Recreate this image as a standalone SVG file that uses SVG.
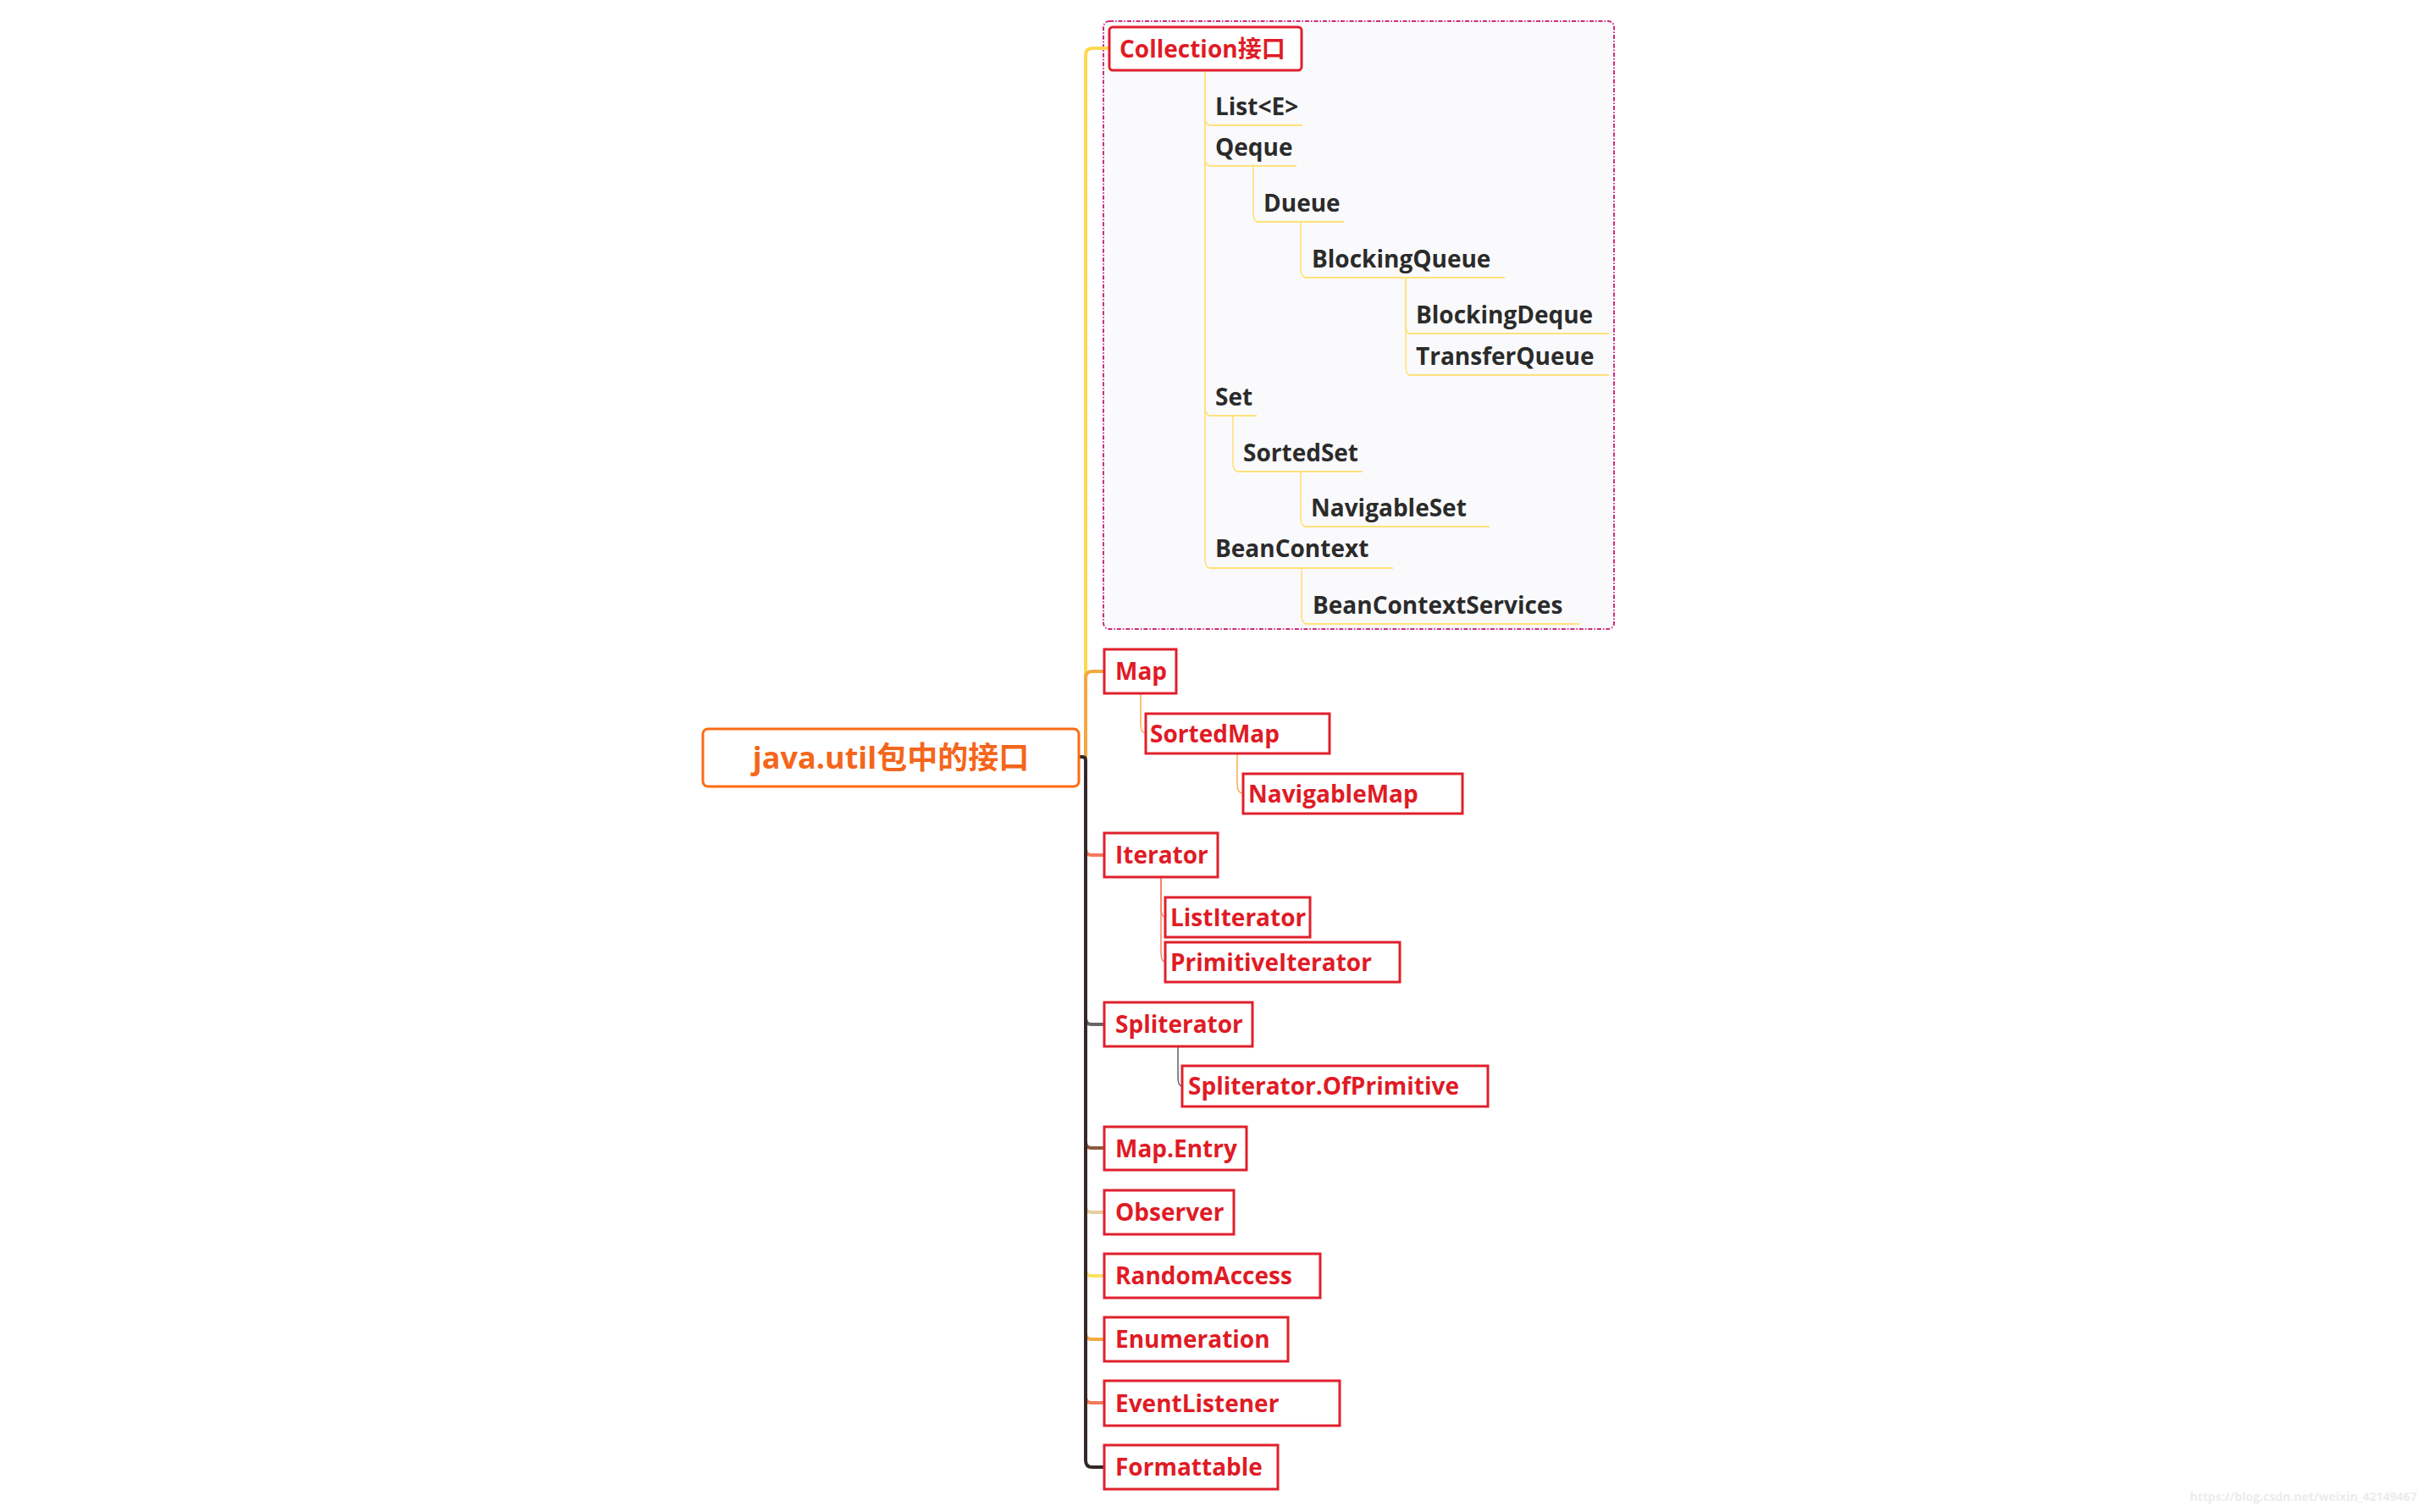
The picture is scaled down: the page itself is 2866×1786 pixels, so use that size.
<svg xmlns="http://www.w3.org/2000/svg" width="2866" height="1786" viewBox="0 0 2866 1786">
<style>
  text { font-family: "Open Sans", "Noto Sans CJK SC", sans-serif; font-weight: 700; }
  .red { fill: #e01b25; font-size: 28px; }
  .dark { fill: #2b2b2b; font-size: 28px; }
  .box { fill: #ffffff; stroke: #e0202c; stroke-width: 3; }
  .ul { stroke: #ffe27a; stroke-width: 2; fill: none; }
  .cn { stroke: #ffe27a; stroke-width: 1.6; fill: none; }
  .trunk { fill: none; stroke-width: 4; stroke-linejoin: round; }
  .sub { fill: none; stroke-width: 1.4; }
</style>
<rect x="0" y="0" width="2866" height="1786" fill="#ffffff"/>

<g id="collection-frame">
  <rect x="1303" y="25" width="603" height="718" rx="7" fill="#fafafc" stroke="#cf2b7d" stroke-width="2" stroke-dasharray="5 2 1.5 2"/>
</g>

<g id="connectors">
  <path class="trunk" stroke="#ffd84f" d="M1274,894 H1282 V65 Q1282,57 1290,57 H1310"/>
  <path class="trunk" stroke="#f5a742" d="M1274,894 H1282 V801 Q1282,793 1290,793 H1304"/>
  <path class="trunk" stroke="#f47a5a" d="M1282,1000 V1003 Q1282,1010 1289,1010 H1304"/>
  <path class="trunk" stroke="#666666" d="M1282,1200 V1203 Q1282,1210 1289,1210 H1304"/>
  <path class="trunk" stroke="#8b5a3c" d="M1282,1346 V1349 Q1282,1356 1289,1356 H1304"/>
  <path class="trunk" stroke="#e8c9a0" d="M1282,1422 V1425 Q1282,1432 1289,1432 H1304"/>
  <path class="trunk" stroke="#ffe066" d="M1282,1497 V1500 Q1282,1507 1289,1507 H1304"/>
  <path class="trunk" stroke="#f5a742" d="M1282,1572 V1575 Q1282,1582 1289,1582 H1304"/>
  <path class="trunk" stroke="#f47a5a" d="M1282,1647 V1650 Q1282,1657 1289,1657 H1304"/>
  <path class="trunk" stroke="#342828" d="M1274,894 H1278 Q1282,894 1282,898 V1725 Q1282,1733 1290,1733 H1304"/>

  <path class="sub" stroke="#f5a742" d="M1347,819 V855 Q1347,866 1353,866"/>
  <path class="sub" stroke="#f5a742" d="M1461,890 V926 Q1461,937 1468,937"/>
  <path class="sub" stroke="#f47a5a" d="M1371,1036 V1072 Q1371,1083 1376,1083"/>
  <path class="sub" stroke="#f47a5a" d="M1371,1036 V1125 Q1371,1136 1376,1136"/>
  <path class="sub" stroke="#555555" d="M1391,1236 V1272 Q1391,1283 1396,1283"/>

  <path class="cn" d="M1423,83 V140 Q1424,148 1430,148"/>
  <path class="cn" d="M1423,83 V188 Q1424,196 1430,196"/>
  <path class="cn" d="M1423,83 V483 Q1424,491 1430,491"/>
  <path class="cn" d="M1423,83 V663 Q1424,671 1430,671"/>
  <path class="cn" d="M1480,196 V254 Q1481,262 1486,262"/>
  <path class="cn" d="M1536,262 V320 Q1537,328 1543,328"/>
  <path class="cn" d="M1660,328 V386 Q1661,394 1665,394"/>
  <path class="cn" d="M1660,328 V435 Q1661,443 1665,443"/>
  <path class="cn" d="M1456,491 V549 Q1457,557 1463,557"/>
  <path class="cn" d="M1536,557 V614 Q1537,622 1542,622"/>
  <path class="cn" d="M1537,671 V729 Q1538,737 1544,737"/>
</g>

<g id="root">
  <rect x="830" y="861" width="444" height="68" rx="6" fill="#ffffff" stroke="#ff6a13" stroke-width="3"/>
  <text x="1052" y="908" text-anchor="middle" fill="#f4661b" font-size="36">java.util包中的接口</text>
</g>

<g id="collection">
  <rect x="1310" y="32" width="227" height="51" rx="4" class="box"/>
  <text x="1322" y="68" class="red">Collection接口</text>
</g>

<g id="list"><text x="1435" y="136" class="dark">List&lt;E&gt;</text><line class="ul" x1="1428" y1="148" x2="1538" y2="148"/></g>
<g id="qeque"><text x="1435" y="184" class="dark">Qeque</text><line class="ul" x1="1428" y1="196" x2="1531" y2="196"/></g>
<g id="dueue"><text x="1492" y="250" class="dark">Dueue</text><line class="ul" x1="1484" y1="262" x2="1587" y2="262"/></g>
<g id="blockingqueue"><text x="1549" y="316" class="dark">BlockingQueue</text><line class="ul" x1="1541" y1="328" x2="1777" y2="328"/></g>
<g id="blockingdeque"><text x="1672" y="382" class="dark">BlockingDeque</text><line class="ul" x1="1663" y1="394" x2="1900" y2="394"/></g>
<g id="transferqueue"><text x="1672" y="431" class="dark">TransferQueue</text><line class="ul" x1="1663" y1="443" x2="1900" y2="443"/></g>
<g id="set"><text x="1435" y="479" class="dark">Set</text><line class="ul" x1="1428" y1="491" x2="1484" y2="491"/></g>
<g id="sortedset"><text x="1468" y="545" class="dark">SortedSet</text><line class="ul" x1="1461" y1="557" x2="1609" y2="557"/></g>
<g id="navigableset"><text x="1548" y="610" class="dark">NavigableSet</text><line class="ul" x1="1540" y1="622" x2="1759" y2="622"/></g>
<g id="beancontext"><text x="1435" y="658" class="dark">BeanContext</text><line class="ul" x1="1428" y1="671" x2="1645" y2="671"/></g>
<g id="beancontextservices"><text x="1550" y="725" class="dark">BeanContextServices</text><line class="ul" x1="1542" y1="737" x2="1865" y2="737"/></g>

<g id="map"><rect class="box" x="1304" y="767" width="85" height="52"/><text x="1317" y="803" class="red">Map</text></g>
<g id="sortedmap"><rect class="box" x="1353" y="843" width="217" height="47"/><text x="1358" y="876.5" class="red">SortedMap</text></g>
<g id="navigablemap"><rect class="box" x="1468" y="914" width="259" height="47"/><text x="1474" y="947.5" class="red">NavigableMap</text></g>
<g id="iterator"><rect class="box" x="1304" y="984" width="134" height="52"/><text x="1317" y="1020" class="red">Iterator</text></g>
<g id="listiterator"><rect class="box" x="1376" y="1060" width="171" height="47"/><text x="1382" y="1093.5" class="red">ListIterator</text></g>
<g id="primitiveiterator"><rect class="box" x="1376" y="1113" width="277" height="47"/><text x="1382" y="1146.5" class="red">PrimitiveIterator</text></g>
<g id="spliterator"><rect class="box" x="1304" y="1184" width="175" height="52"/><text x="1317" y="1220" class="red">Spliterator</text></g>
<g id="ofprimitive"><rect class="box" x="1396" y="1259" width="361" height="48"/><text x="1403" y="1293" class="red">Spliterator.OfPrimitive</text></g>
<g id="mapentry"><rect class="box" x="1304" y="1331" width="168" height="51"/><text x="1317" y="1366.5" class="red">Map.Entry</text></g>
<g id="observer"><rect class="box" x="1304" y="1406" width="153" height="52"/><text x="1317" y="1442" class="red">Observer</text></g>
<g id="randomaccess"><rect class="box" x="1304" y="1481" width="255" height="52"/><text x="1317" y="1517" class="red">RandomAccess</text></g>
<g id="enumeration"><rect class="box" x="1304" y="1556" width="217" height="52"/><text x="1317" y="1592" class="red">Enumeration</text></g>
<g id="eventlistener"><rect class="box" x="1304" y="1631" width="278" height="53"/><text x="1317" y="1667.5" class="red">EventListener</text></g>
<g id="formattable"><rect class="box" x="1304" y="1707" width="205" height="52"/><text x="1317" y="1743" class="red">Formattable</text></g>

<text x="2586" y="1773" font-family="'Liberation Sans', Arial, sans-serif" font-weight="400" font-size="15" fill="#ececec" textLength="268" lengthAdjust="spacingAndGlyphs">https://blog.csdn.net/weixin_42149467</text>
</svg>
